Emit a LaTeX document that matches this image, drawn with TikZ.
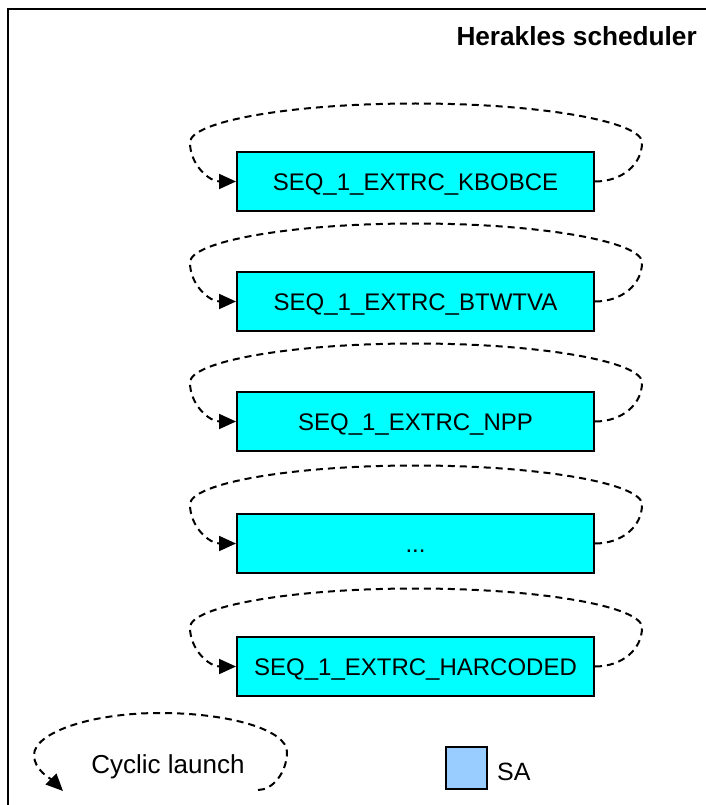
\documentclass[tikz,border=0pt]{standalone}
\usepackage{fontspec}
\setmainfont{Liberation Sans}
\usetikzlibrary{arrows.meta,calc}
\definecolor{boxcyan}{HTML}{00FFFF}
\definecolor{safill}{HTML}{99CCFF}
\tikzset{
  seqbox/.style={draw=black, line width=2pt, fill=boxcyan, minimum width=357pt, minimum height=59pt,
    inner sep=0pt, text height=17pt, text depth=0pt, font=\fontsize{24}{28}\selectfont},
  loopline/.style={line width=2pt, dash pattern=on 7pt off 5pt, -{Triangle[length=17pt,width=15pt]}},
  lbl/.style={inner sep=0pt, font=\fontsize{25}{30}\selectfont},
  frameline/.style={line width=2.2pt}
}
\begin{document}
\begin{tikzpicture}[x=1pt,y=-1pt]
\useasboundingbox (0,0) rectangle (705,805);
\draw[frameline] (8,806) -- (8,9) -- (706,9);
\node[lbl, anchor=base east, font=\fontsize{26.2}{30}\selectfont\bfseries] (title) at (697,46) {Herakles scheduler};

\node[seqbox] (b1) at (415.5,181.5) {SEQ\_1\_EXTRC\_KBOBCE};
\node[seqbox] (b2) at (415.5,301.5) {SEQ\_1\_EXTRC\_BTWTVA};
\node[seqbox] (b3) at (415.5,421.5) {SEQ\_1\_EXTRC\_NPP};
\node[seqbox] (b4) at (415.5,543.5) {...};
\node[seqbox] (b5) at (415.5,666.5) {SEQ\_1\_EXTRC\_HARCODED};

\foreach \b in {b1,b2,b3,b4,b5}{
  \draw[loopline] (\b.east) .. controls +(27,0) and +(0,22) .. ($(\b)+(226.5,-39)$)
    .. controls +(0,-21) and +(125,0) .. ($(\b)+(0,-78)$)
    .. controls +(-125,0) and +(0,-21) .. ($(\b)+(-225.5,-39)$)
    .. controls +(0,22) and +(-27,0) .. (\b.west);
}

\node[lbl, anchor=base, font=\fontsize{26}{30}\selectfont] (cyc) at (168,773) {Cyclic launch};
\coordinate (cs) at (258,790);
\coordinate (ce) at (63,791);
\draw[loopline] (cs) .. controls +(15,0) and +(0,20) .. (287,752)
  .. controls +(0,-22) and +(70,0) .. (160,713)
  .. controls +(-70,0) and +(0,-22) .. (34,755)
  .. controls +(0,15) and +(-12,-12) .. (ce);

\node[draw=black, line width=2pt, fill=safill, minimum width=41pt, minimum height=42pt, inner sep=0pt] (sa) at (466.5,768) {};
\node[lbl, anchor=base west] (satext) at (497,780) {SA};
\end{tikzpicture}
\end{document}
